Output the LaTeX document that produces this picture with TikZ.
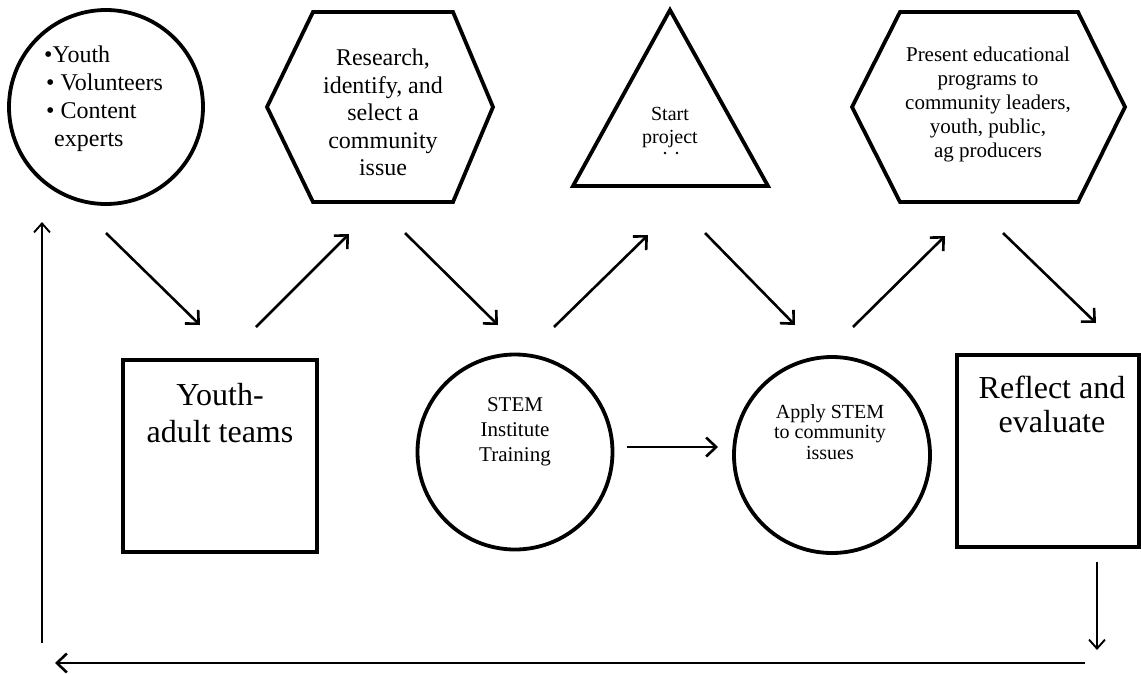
\documentclass[tikz,border=0pt]{standalone}
\usepackage{fontspec}
\setmainfont{Liberation Serif}
\usetikzlibrary{arrows.meta}
\begin{document}
\begin{tikzpicture}[x=1pt,y=-1pt,
  shapeline/.style={line width=3.8pt, line join=miter},
  flow/.style={line width=2.6pt, -{Straight Barb[length=10pt,width=19pt,line width=2.6pt]}},
  loopline/.style={line width=1.9pt, -{Straight Barb[length=9pt,width=16pt,line width=1.9pt]}},
  txt/.style={inner sep=0pt, align=center, anchor=north}]
\useasboundingbox (0,0) rectangle (1141,673);
\fill[white] (0,0) rectangle (1141,673);

% shapes
\node[circle, draw, shapeline, minimum size=194pt, inner sep=0pt] (c1) at (106,107) {};
\draw[shapeline] (267,107) -- (313,12) -- (453,12) -- (493,107) -- (453,202) -- (313,202) -- cycle;
\coordinate (hex1) at (380,107);
\draw[shapeline] (670,10) -- (768,186) -- (573,186) -- cycle;
\coordinate (tri) at (670,120);
\draw[shapeline] (852,107) -- (900,12) -- (1078,12) -- (1125,107) -- (1078,202) -- (900,202) -- cycle;
\coordinate (hex2) at (988,107);
\node[draw, shapeline, minimum width=194pt, minimum height=192pt, inner sep=0pt] (sq1) at (220,456) {};
\node[circle, draw, shapeline, minimum size=195pt, inner sep=0pt] (stem) at (515,452) {};
\node[circle, draw, shapeline, minimum size=196pt, inner sep=0pt] (apply) at (832,455) {};
\node[draw, shapeline, minimum width=182pt, minimum height=192pt, inner sep=0pt] (sq2) at (1048,451) {};

% texts
\node[inner sep=0pt, align=left, anchor=north west, font=\fontsize{24}{28}\selectfont] (c1t) at (44,46)
  {•Youth\\\hspace{2pt}• Volunteers\\\hspace{2pt}• Content\\\hspace{10pt}experts};
\node[txt, font=\fontsize{24}{27.5}\selectfont] (hex1t) at (383,49)
  {Research,\\identify, and\\select a\\community\\issue};
\node[txt, font=\fontsize{20}{23}\selectfont] (trit) at (670,107) {Start\\project};
\fill (665,153) circle (1.3pt) (677,153) circle (1.3pt);
\node[txt, font=\fontsize{21}{24}\selectfont] (hex2t) at (988,47)
  {Present educational\\programs to\\community leaders,\\youth, public,\\ag producers};
\node[txt, font=\fontsize{32}{37}\selectfont] (sq1t) at (220,383) {Youth-\\adult teams};
\node[txt, font=\fontsize{32}{34}\selectfont] (sq2t) at (1052,376) {Reflect and\\evaluate};
\node[txt, font=\fontsize{21}{25}\selectfont] (stemt) at (515,397) {STEM\\Institute\\Training};
\node[txt, font=\fontsize{20}{20.5}\selectfont] (applyt) at (830,404) {Apply STEM\\to community\\issues};

% arrow end points
\coordinate (a1s) at (106,233); \coordinate (a1e) at (200,325);
\coordinate (a2s) at (256,327); \coordinate (a2e) at (349,234);
\coordinate (a3s) at (405,233); \coordinate (a3e) at (498,325);
\coordinate (a4s) at (554,327); \coordinate (a4e) at (648,235);
\coordinate (a5s) at (705,233); \coordinate (a5e) at (795,325);
\coordinate (a6s) at (853,327); \coordinate (a6e) at (945,236);
\coordinate (a7s) at (1003,233); \coordinate (a7e) at (1096,323);
\coordinate (h1s) at (627,447); \coordinate (h1e) at (718,447);
\coordinate (d1s) at (1097,562); \coordinate (d1e) at (1097,650);
\coordinate (b1s) at (1085,663); \coordinate (b1e) at (55,663);
\coordinate (u1s) at (42,643); \coordinate (u1e) at (42,222);

\draw[flow] (a1s) -- (a1e);
\draw[flow] (a2s) -- (a2e);
\draw[flow] (a3s) -- (a3e);
\draw[flow] (a4s) -- (a4e);
\draw[flow] (a5s) -- (a5e);
\draw[flow] (a6s) -- (a6e);
\draw[flow] (a7s) -- (a7e);
\draw[flow] (h1s) -- (h1e);
\draw[loopline] (d1s) -- (d1e);
\draw[flow] (b1s) -- (b1e);
\draw[loopline] (u1s) -- (u1e);
\end{tikzpicture}
\end{document}
